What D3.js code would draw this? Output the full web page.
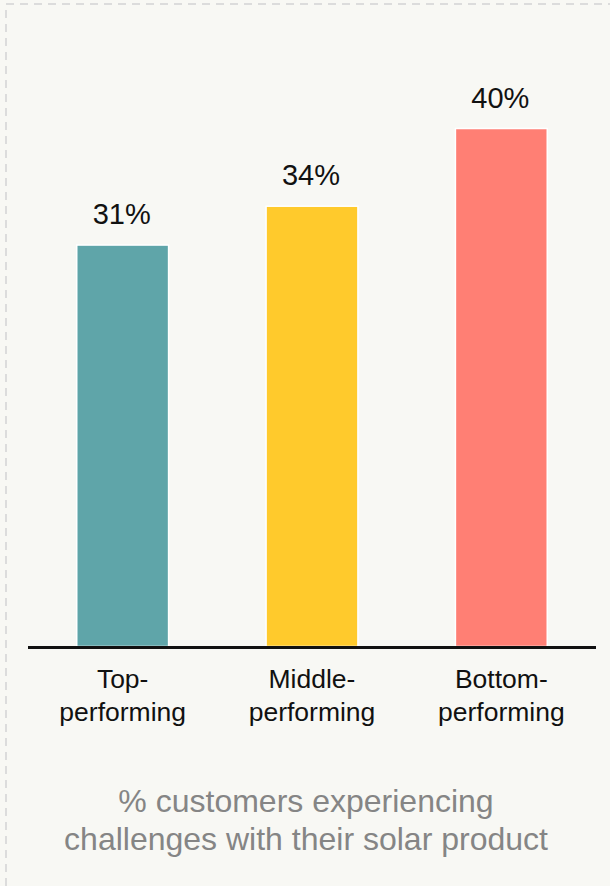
<!DOCTYPE html>
<html>
<head>
<meta charset="utf-8">
<script src="https://cdn.jsdelivr.net/npm/d3@7/dist/d3.min.js"></script>
<style>
  html, body { margin: 0; padding: 0; background: #f8f8f4; }
  svg { display: block; font-family: "Liberation Sans", Arial, Helvetica, sans-serif; }
</style>
</head>
<body>
<svg id="chart" width="610" height="886"></svg>
<script>
// Customer groups, their share of customers reporting problems, and bar colours
const categories = ["Top-performing", "Middle-performing", "Bottom-performing"];
const categoryLines = [["Top-", "performing"], ["Middle-", "performing"], ["Bottom-", "performing"]];
const values = [31, 34, 40];
const colors = ["#5fa5a9", "#ffca2c", "#ff7f74"];
const captionLines = ["% customers experiencing", "challenges with their solar product"];

const W = 610, H = 886;
const svg = d3.select("#chart");

// Dashed frame along the top and left edges
svg.append("path")
  .attr("d", `M6,${H} L6,4 L${W},4`)
  .attr("fill", "none")
  .attr("stroke", "#dcdcdc")
  .attr("stroke-width", 2)
  .attr("stroke-dasharray", "8,6");

const x = d3.scaleBand()
  .domain(categories)
  .range([28, 596])
  .paddingInner(0.515)
  .paddingOuter(0.2575);

const y = d3.scaleLinear()
  .domain([0, 40])
  .range([646.5, 128.5]);

const data = categories.map((c, i) => ({ c, v: values[i], color: colors[i], lines: categoryLines[i] }));

// Bars
svg.append("g").selectAll("rect")
  .data(data)
  .join("rect")
  .attr("x", d => x(d.c))
  .attr("y", d => y(d.v))
  .attr("width", x.bandwidth())
  .attr("height", d => y(0) - y(d.v))
  .attr("fill", d => d.color)
  .attr("stroke", "#ffffff")
  .attr("stroke-width", 1.5);

// Value labels above bars
svg.append("g").selectAll("text")
  .data(data)
  .join("text")
  .attr("x", d => x(d.c) + x.bandwidth() / 2 - 1)
  .attr("y", d => y(d.v) - 21)
  .attr("text-anchor", "middle")
  .attr("font-size", 29)
  .attr("fill", "#111")
  .text(d => d.v + "%");

// Baseline
svg.append("line")
  .attr("x1", 28).attr("x2", 596)
  .attr("y1", y(0) + 1).attr("y2", y(0) + 1)
  .attr("stroke", "#111")
  .attr("stroke-width", 3);

// Category labels, two lines each
const cat = svg.append("g").selectAll("text")
  .data(data)
  .join("text")
  .attr("text-anchor", "middle")
  .attr("font-size", 26.5)
  .attr("fill", "#111");
cat.selectAll("tspan")
  .data(d => d.lines.map(l => ({ l, cx: x(d.c) + x.bandwidth() / 2 })))
  .join("tspan")
  .attr("x", d => d.cx)
  .attr("y", (d, i) => 688 + i * 33)
  .text(d => d.l);

// Caption under the chart
svg.append("text")
  .attr("text-anchor", "middle")
  .attr("font-size", 32)
  .attr("fill", "#858585")
  .selectAll("tspan")
  .data(captionLines)
  .join("tspan")
  .attr("x", 306)
  .attr("y", (d, i) => 812 + i * 38)
  .text(d => d);
</script>
</body>
</html>
